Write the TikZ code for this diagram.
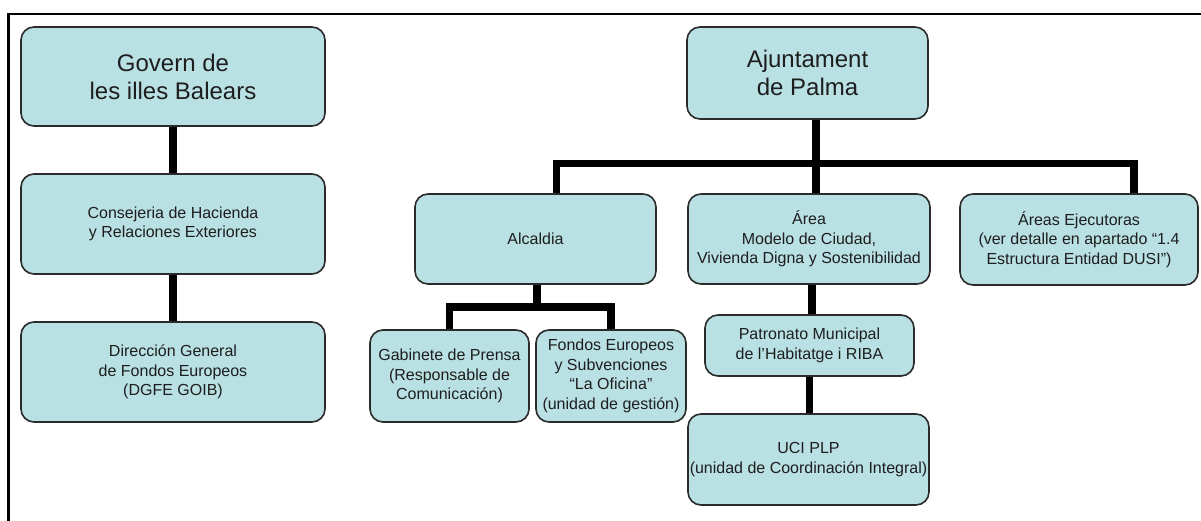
\documentclass[tikz,border=0pt]{standalone}
\usepackage{fontspec}
\setmainfont{Liberation Sans}
\usetikzlibrary{calc}
\definecolor{boxfill}{HTML}{B9E0E3}
\definecolor{boxline}{HTML}{2B2B2B}
\definecolor{txt}{HTML}{1E1E1E}
\begin{document}
\begin{tikzpicture}[x=1pt,y=-1pt,
  orgbox/.style={draw=boxline, line width=1.6pt, fill=boxfill, rounded corners=13pt,
    align=center, inner sep=0pt, text=txt},
  big/.style={font=\fontsize{24}{28}\selectfont},
  small/.style={font=\fontsize{16}{19.5}\selectfont},
  link/.style={line width=7.5pt, draw=black},
]
\useasboundingbox (0,0) rectangle (1201,521);
% outer frame
\draw[line width=2.5pt] (1201,14) -- (8.5,14) -- (8.5,521);

% left column
\node[orgbox, big, minimum width=304pt, minimum height=99pt] (gov) at (173,76.5) {Govern de\\les illes Balears};
\node[orgbox, small, minimum width=304pt, minimum height=100pt] (cons) at (173,224) {Consejeria de Hacienda\\y Relaciones Exteriores};
\node[orgbox, small, minimum width=304pt, minimum height=100pt] (dir) at (173,372) {Dirección General\\de Fondos Europeos\\(DGFE GOIB)};

% right part
\node[orgbox, big, minimum width=241pt, minimum height=92pt] (aj) at (807.5,73) {Ajuntament\\de Palma};
\node[orgbox, small, minimum width=241pt, minimum height=90pt] (alc) at (535.5,239) {Alcaldia};
\node[orgbox, small, minimum width=242pt, minimum height=90pt] (area) at (809,239) {Área\\Modelo de Ciudad,\\Vivienda Digna y Sostenibilidad};
\node[orgbox, small, minimum width=238pt, minimum height=91pt] (ae) at (1079,239.5) {Áreas Ejecutoras\\(ver detalle en apartado “1.4\\Estructura Entidad DUSI”)};
\node[orgbox, small, minimum width=159pt, minimum height=92pt] (gab) at (449.5,376) {Gabinete de Prensa\\(Responsable de\\Comunicación)};
\node[orgbox, small, minimum width=150pt, minimum height=92pt] (fon) at (611,376) {Fondos Europeos\\y Subvenciones\\“La Oficina”\\(unidad de gestión)};
\node[orgbox, small, minimum width=209pt, minimum height=61pt] (pat) at (809.5,345.5) {Patronato Municipal\\de l’Habitatge i RIBA};
\node[orgbox, small, minimum width=241pt, minimum height=91pt] (uci) at (808.5,459.5) {UCI PLP\\(unidad de Coordinación Integral)};

% connectors
\draw[link] (gov.south) -- (cons.north);
\draw[link] (cons.south) -- (dir.north);

\coordinate (busa) at (0,163.5);
\coordinate (ajout) at ($(aj.south)+(8.5,0)$);
\coordinate (areain) at ($(area.north)+(7,0)$);
\coordinate (alcin) at ($(alc.north)+(21,0)$);
\coordinate (aein) at ($(ae.north)+(55,0)$);
\draw[link] (ajout) -- (areain);
\draw[link] (alcin) -- (alcin |- busa) -- (aein |- busa) -- (aein);

\coordinate (busb) at (0,307);
\coordinate (alcout) at ($(alc.south)+(1.5,0)$);
\draw[link] (alcout) -- (alcout |- busb);
\draw[link] (gab.north) -- (gab.north |- busb) -- (fon.north |- busb) -- (fon.north);

\coordinate (areaout) at ($(area.south)+(3,0)$);
\draw[link] (areaout) -- (areaout |- pat.north);
\draw[link] (pat.south) -- (pat.south |- uci.north);
\end{tikzpicture}
\end{document}
